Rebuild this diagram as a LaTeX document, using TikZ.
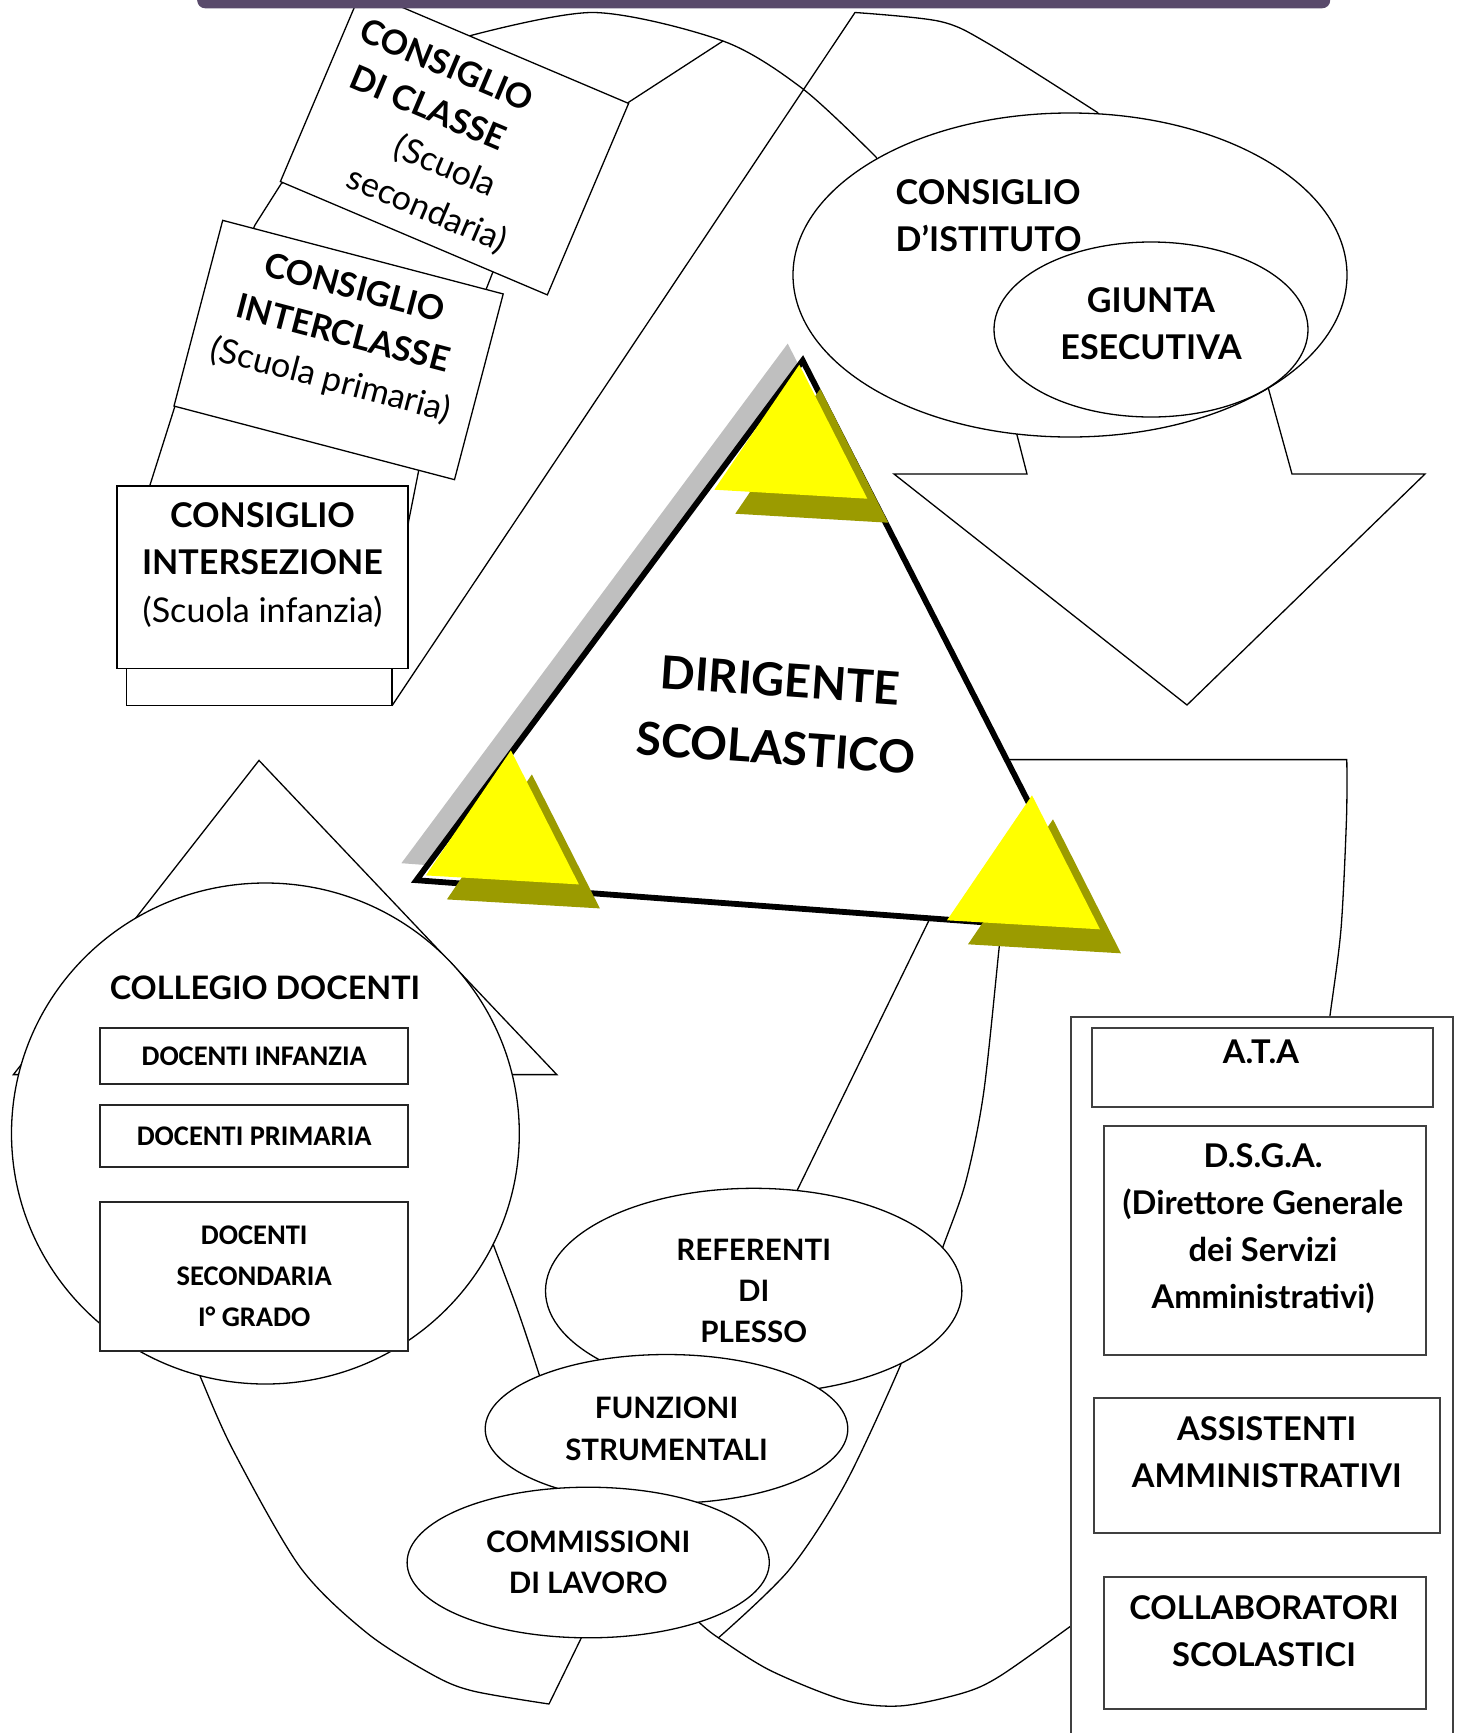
\documentclass[tikz,border=0pt]{standalone}
\usepackage{fontspec}
\setmainfont{Lato}
\newfontfamily\calibri{Carlito}
\usetikzlibrary{calc,shapes.geometric}

\definecolor{barviolet}{HTML}{594A6B}
\definecolor{apexyellow}{HTML}{FFFF00}
\definecolor{apexolive}{HTML}{9B9B00}
\definecolor{shadowgray}{HTML}{BFBFBF}

\tikzset{
  apexmark/.pic={
    \fill[apexolive] (21,24) -- (-64,149) -- (89,158) -- cycle;
    \fill[apexyellow] (0,0) -- (-85,125) -- (68,134) -- cycle;
  }
}

\begin{document}
\begin{tikzpicture}[
    x=0.1mm, y=-0.1mm,
    thinline/.style={line width=0.13mm},
    plain/.style={draw, fill=white, line width=0.13mm, inner sep=0pt},
    card/.style={plain, rectangle},
    oval/.style={plain, ellipse},
    frame/.style={draw=black!75, fill=white, line width=0.2mm, rectangle, inner sep=0pt, anchor=north west},
    docbox/.style={draw=black!85, fill=white, line width=0.2mm, rectangle, inner sep=0pt,
      minimum width=30.77mm, align=center, font=\calibri\bfseries\fontsize{8.1}{11.7}\selectfont},
    ctext/.style={inner sep=0pt, align=center, font=\bfseries\fontsize{9.7}{13.4}\selectfont},
    ntext/.style={ctext, font=\fontsize{9.7}{13.4}\selectfont},
    atatext/.style={ctext, font=\bfseries\fontsize{9.3}{13.4}\selectfont},
    stext/.style={align=center, font=\bfseries\fontsize{8.4}{11.8}\selectfont},
    btext/.style={inner sep=0pt, align=center, font=\bfseries\fontsize{13}{19.3}\selectfont},
  ]

  \useasboundingbox (0,0) rectangle (1462,1733);
  \clip (0,0) rectangle (1462,1733);

  % curved arrow over the top, head pointing down on the right
  \draw[thinline] (140,545) -- (150,485) -- (175,406) -- (255,225) -- (281,184) -- (469,36)
    -- plot[smooth] coordinates {(469,36) (594,12.5) (723,41) (803,89) (876,157)}
    -- (1017,435) -- (1027,474) -- (894,474) -- (1187,705) -- (1425,474) -- (1292,474)
    -- (1268,387) -- (1097.5,112.5)
    -- plot[smooth] coordinates {(1097.5,112.5) (989,44) (940,21.4) (855,12.5)}
    -- (392,705.7);
  \draw[thinline] (400,590) -- (408.6,521.4) -- (418.6,471) -- (486.4,288.6) -- (492.5,273)
    -- (629,102) -- (723,41);

  % curved arrow on the left, head pointing up
  \draw[thinline, fill=white] (13.4,1074.6) -- (259,760.4) -- (556.8,1074.6) -- cycle;
  \draw[thinline] plot[smooth] coordinates {(480,1208) (493.4,1244.8) (517.6,1309.9) (539.9,1376.8) (556,1430)};
  \draw[thinline] plot[smooth] coordinates {(190,1352) (200,1376) (233,1450) (300,1567) (367,1633)
    (433,1675) (473,1691) (549,1704)} -- (580.8,1638.9) -- (586,1625);

  % curved arrow at the bottom right
  \draw[thinline] (995,759.6) -- (1346.8,759.6)
    -- plot[smooth] coordinates {(1346.8,759.6) (1346.5,818) (1341,929) (1330,1015.5) (1327,1040)};
  \draw[thinline] (935,908) -- (790,1205);
  \draw[thinline] plot[smooth] coordinates {(1001,930) (999,949) (983.6,1093) (965.7,1182) (942.5,1248)
    (920,1310) (898.7,1369.4) (844.8,1484.6) (789,1570) (718.4,1637.8)};
  \draw[thinline] plot[smooth] coordinates {(690,1612) (699.8,1623) (718.4,1637.8) (770.4,1670.5)
    (844.8,1700.3) (900.5,1705.9) (963,1693) (1000,1676) (1070,1626.6) (1090,1611)};

  % consigli
  \node[card, minimum width=29mm, minimum height=20.8mm, rotate=-23] (classe) at (454.5,142.5) {};
  \node[ctext, rotate=-23] (classetitle) at (437.7,86.1) {CONSIGLIO\\DI CLASSE};
  \node[ntext, rotate=-23] (classenote) at (436.2,188.3) {(Scuola\\secondaria)};
  \node[card, minimum width=29mm, minimum height=19.2mm, rotate=-14.7] (interclasse) at (338.6,350) {};
  \node[ctext, rotate=-14.7] (interclassetxt) at (342.4,335.5)
    {CONSIGLIO\\INTERCLASSE\\\mdseries(Scuola primaria)};
  \node[card, minimum width=26.53mm, minimum height=10mm] (intersezioneback) at (259.45,655.7) {};
  \node[card, minimum width=29.08mm, minimum height=18.26mm] (intersezione) at (262.5,577.3) {};
  \node[ctext] (intersezionetxt) at (262.5,565)
    {CONSIGLIO\\INTERSEZIONE\\\mdseries(Scuola infanzia)};

  % consiglio d'istituto
  \node[oval, minimum width=55.4mm, minimum height=32.4mm] (istituto) at (1070,275) {};
  \node[ctext, align=left, anchor=west] (istitutotxt) at (895,215.7) {CONSIGLIO\\D’ISTITUTO};
  \node[oval, minimum width=31.4mm, minimum height=17.5mm] (giunta) at (1151,329.5) {};
  \node[ctext] (giuntatxt) at (1151,324) {GIUNTA\\ESECUTIVA};

  % collegio docenti
  \node[oval, minimum width=50.78mm, minimum height=50.1mm] (collegio) at (265.4,1133.5) {};
  \node[ctext, font=\bfseries\fontsize{9.2}{13.4}\selectfont] (collegiotxt) at (265,988) {COLLEGIO DOCENTI};
  \node[docbox, minimum height=5.6mm] (infanzia) at (254.2,1056) {DOCENTI INFANZIA};
  \node[docbox, minimum height=6.2mm] (primaria) at (254.2,1136) {DOCENTI PRIMARIA};
  \node[docbox, minimum height=14.9mm] (secondaria) at (254.2,1276.2) {DOCENTI\\SECONDARIA\\I° GRADO};

  % referenti, funzioni, commissioni
  \node[oval, stext, minimum width=41.64mm, minimum height=20.52mm] (referenti) at (753.7,1290.9)
    {REFERENTI\\DI\\PLESSO};
  \node[oval, stext, minimum width=36.26mm, minimum height=14.88mm] (funzioni) at (666.5,1428.9)
    {FUNZIONI\\STRUMENTALI};
  \node[oval, stext, minimum width=36.22mm, minimum height=15.06mm] (commissioni) at (588.2,1562.5)
    {COMMISSIONI\\DI LAVORO};

  % A.T.A
  \node[frame, minimum width=38.17mm, minimum height=80mm] (ata) at (1070,1015.5) {};
  \node[frame, minimum width=34.1mm, minimum height=7.91mm] (atahead) at (1090.7,1026.9) {};
  \node[atatext] (atatxt) at (1261,1052) {A.T.A};
  \node[frame, minimum width=32.23mm, minimum height=22.93mm] (dsga) at (1102.7,1125) {};
  \node[atatext] (dsgatxt) at (1263,1228.6)
    {D.S.G.A.\\(Direttore Generale\\dei Servizi\\Amministrativi)};
  \node[frame, minimum width=34.66mm, minimum height=13.49mm] (assistenti) at (1092.7,1396.7) {};
  \node[atatext] (assistentitxt) at (1266.7,1452.2) {ASSISTENTI\\AMMINISTRATIVI};
  \node[frame, minimum width=32.23mm, minimum height=13.17mm] (collaboratori) at (1102.7,1576) {};
  \node[atatext] (collaboratoritxt) at (1264,1630.8) {COLLABORATORI\\SCOLASTICI};

  % dirigente
  \coordinate (apex) at (802.7,360.6);
  \coordinate (leftc) at (416.4,880.2);
  \coordinate (rightc) at (1094,930.5);
  \fill[shadowgray] ($(apex)+(-15,-17)$) -- ($(leftc)+(-15,-17)$) -- ($(rightc)+(-15,-17)$) -- cycle;
  \draw[line width=0.58mm, fill=white] (apex) -- (leftc) -- (rightc) -- cycle;
  \pic at (799.3,364.7) {apexmark};
  \pic at (510.9,750.4) {apexmark};
  \pic at (1032,795.3) {apexmark};
  \node[btext, rotate=-4] (dirigente) at (778,714) {DIRIGENTE\\SCOLASTICO};

  \node[fill=barviolet, rounded corners=0.8mm, inner sep=0pt, minimum width=113.3mm,
    minimum height=5mm, anchor=south west] (topbar) at (196.5,9) {};
\end{tikzpicture}
\end{document}
